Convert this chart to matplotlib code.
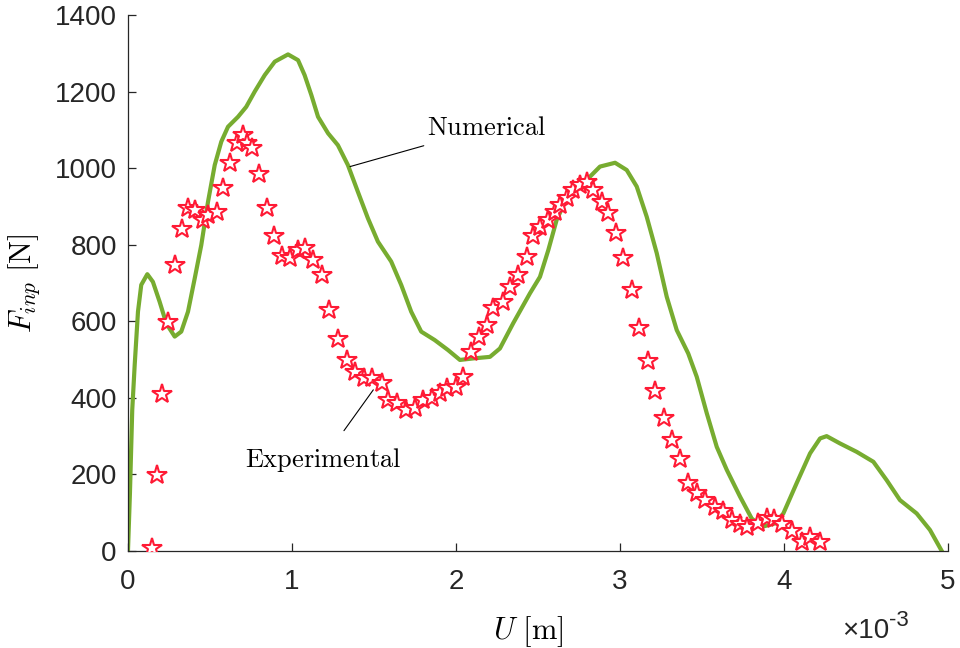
import numpy as np
import matplotlib
matplotlib.use("Agg")
import matplotlib.pyplot as plt

plt.rcParams["mathtext.fontset"] = "cm"
plt.rcParams["font.family"] = ["Liberation Sans", "DejaVu Sans"]

# ── Numerical curve (U in units of 1e-3 m, F in N) ──
u_num = [0.000, 0.012, 0.026, 0.041, 0.061, 0.081, 0.118, 0.152, 0.193, 0.234,
         0.285, 0.325, 0.366, 0.407, 0.447, 0.488, 0.529, 0.569, 0.610, 0.671,
         0.721, 0.773, 0.834, 0.895, 0.976, 1.037, 1.077, 1.118, 1.159, 1.220,
         1.280, 1.341, 1.402, 1.463, 1.524, 1.605, 1.666, 1.727, 1.788, 1.870,
         1.951, 2.024, 2.106, 2.207, 2.268, 2.349, 2.451, 2.512, 2.563, 2.614,
         2.675, 2.776, 2.878, 2.970, 3.041, 3.102, 3.163, 3.224, 3.285, 3.346,
         3.416, 3.468, 3.529, 3.590, 3.651, 3.732, 3.803, 3.864, 3.945, 3.996,
         4.077, 4.159, 4.220, 4.260, 4.341, 4.443, 4.545, 4.626, 4.707, 4.809,
         4.890, 4.962]
f_num = [0, 151, 368, 486, 625, 695, 723, 703, 651, 594,
         560, 573, 625, 712, 799, 912, 1008, 1069, 1108, 1134,
         1160, 1200, 1243, 1278, 1297, 1282, 1243, 1191, 1134, 1091,
         1060, 1008, 938, 869, 808, 756, 695, 625, 573, 551,
         525, 499, 503, 507, 529, 595, 673, 716, 786, 865,
         921, 960, 1004, 1014, 995, 952, 873, 778, 664, 577,
         516, 455, 360, 272, 212, 142, 85, 63, 72, 98,
         177, 255, 294, 300, 281, 259, 233, 185, 133, 98,
         55, 0]

# ── Experimental points ──
u_exp = [0.145, 0.175, 0.210, 0.246, 0.287, 0.327, 0.368, 0.409, 0.457, 0.488,
         0.541, 0.581, 0.622, 0.663, 0.703, 0.724, 0.758, 0.801, 0.846, 0.890,
         0.937, 0.988, 1.038, 1.079, 1.130, 1.181, 1.227, 1.282, 1.334, 1.384,
         1.439, 1.486, 1.547, 1.587, 1.638, 1.695, 1.750, 1.799, 1.852, 1.902,
         1.948, 1.999, 2.045, 2.091, 2.142, 2.187, 2.227, 2.288, 2.329, 2.380,
         2.431, 2.471, 2.512, 2.563, 2.604, 2.634, 2.675, 2.715, 2.756, 2.797,
         2.837, 2.888, 2.929, 2.976, 3.020, 3.071, 3.118, 3.168, 3.216, 3.268,
         3.315, 3.366, 3.417, 3.468, 3.518, 3.579, 3.630, 3.681, 3.732, 3.777,
         3.843, 3.895, 3.939, 3.990, 4.047, 4.108, 4.159, 4.220]
f_exp = [8, 199, 411, 599, 748, 842, 896, 891, 865, 878,
         886, 948, 1014, 1066, 1087, 1066, 1053, 985, 896, 823,
         770, 765, 786, 791, 760, 721, 629, 554, 499, 467,
         452, 452, 439, 394, 387, 368, 374, 394, 400, 413,
         425, 428, 455, 519, 560, 590, 635, 651, 690, 721,
         769, 823, 847, 865, 886, 904, 922, 943, 956, 965,
         943, 912, 882, 830, 765, 682, 583, 496, 418, 347,
         290, 240, 178, 151, 133, 116, 105, 81, 71, 63,
         74, 85, 84, 71, 52, 24, 37, 24]

x_ticks = [0, 1, 2, 3, 4, 5]
y_ticks = [0, 200, 400, 600, 800, 1000, 1200, 1400]

AXIS_COLOR = "#262626"
GREEN = "#77AC30"
RED = "#FF1A35"

fig = plt.figure(figsize=(9.6, 6.48), dpi=100)
ax = fig.add_axes([0.1333, 0.1497, 0.8542, 0.8272])

ax.plot(u_num, f_num, color=GREEN, linewidth=3.0, solid_joinstyle="round", zorder=2)
ax.plot(u_exp, f_exp, linestyle="none", marker="*", markersize=15,
        markerfacecolor="white", markeredgecolor=RED, markeredgewidth=1.5, zorder=3)

ax.set_xlim(0, 5)
ax.set_ylim(0, 1400)
ax.set_xticks(x_ticks)
ax.set_yticks(y_ticks)
ax.set_xticklabels([str(t) for t in x_ticks])
ax.set_yticklabels([str(t) for t in y_ticks])

for side in ["top", "right"]:
    ax.spines[side].set_visible(False)
for side in ["left", "bottom"]:
    ax.spines[side].set_color(AXIS_COLOR)
    ax.spines[side].set_linewidth(0.9)

ax.tick_params(axis="both", direction="in", length=6, width=0.9,
               color=AXIS_COLOR, labelcolor=AXIS_COLOR, labelsize=20)
ax.tick_params(axis="x", pad=13)
ax.tick_params(axis="y", pad=8)

ax.set_xlabel(r"$U\ [\mathrm{m}]$", fontsize=22)
ax.set_ylabel(r"$F_{inp}\ [\mathrm{N}]$", fontsize=22)
ax.xaxis.set_label_coords(0.488, -0.118)
ax.yaxis.set_label_coords(-0.105, 0.5)

# annotations
ax.annotate(r"$\mathrm{Numerical}$", xy=(1.354, 1004), xytext=(1.823, 1105),
            fontsize=19, va="center", ha="left",
            arrowprops=dict(arrowstyle="-", color="black", lw=0.8,
                            shrinkA=8, shrinkB=0))
ax.annotate(r"$\mathrm{Experimental}$", xy=(1.496, 421), xytext=(1.189, 238),
            fontsize=19, va="center", ha="center",
            arrowprops=dict(arrowstyle="-", color="black", lw=0.8,
                            shrinkA=11, shrinkB=0))

# exponent marker for x axis
fig.text(842 / 960, 1 - 638 / 648, "\u00d710", fontsize=20, color=AXIS_COLOR,
         ha="left", va="baseline")
fig.text(889 / 960, 1 - 626 / 648, "-3", fontsize=16, color=AXIS_COLOR,
         ha="left", va="baseline")

plt.savefig("out.png", dpi=100)
